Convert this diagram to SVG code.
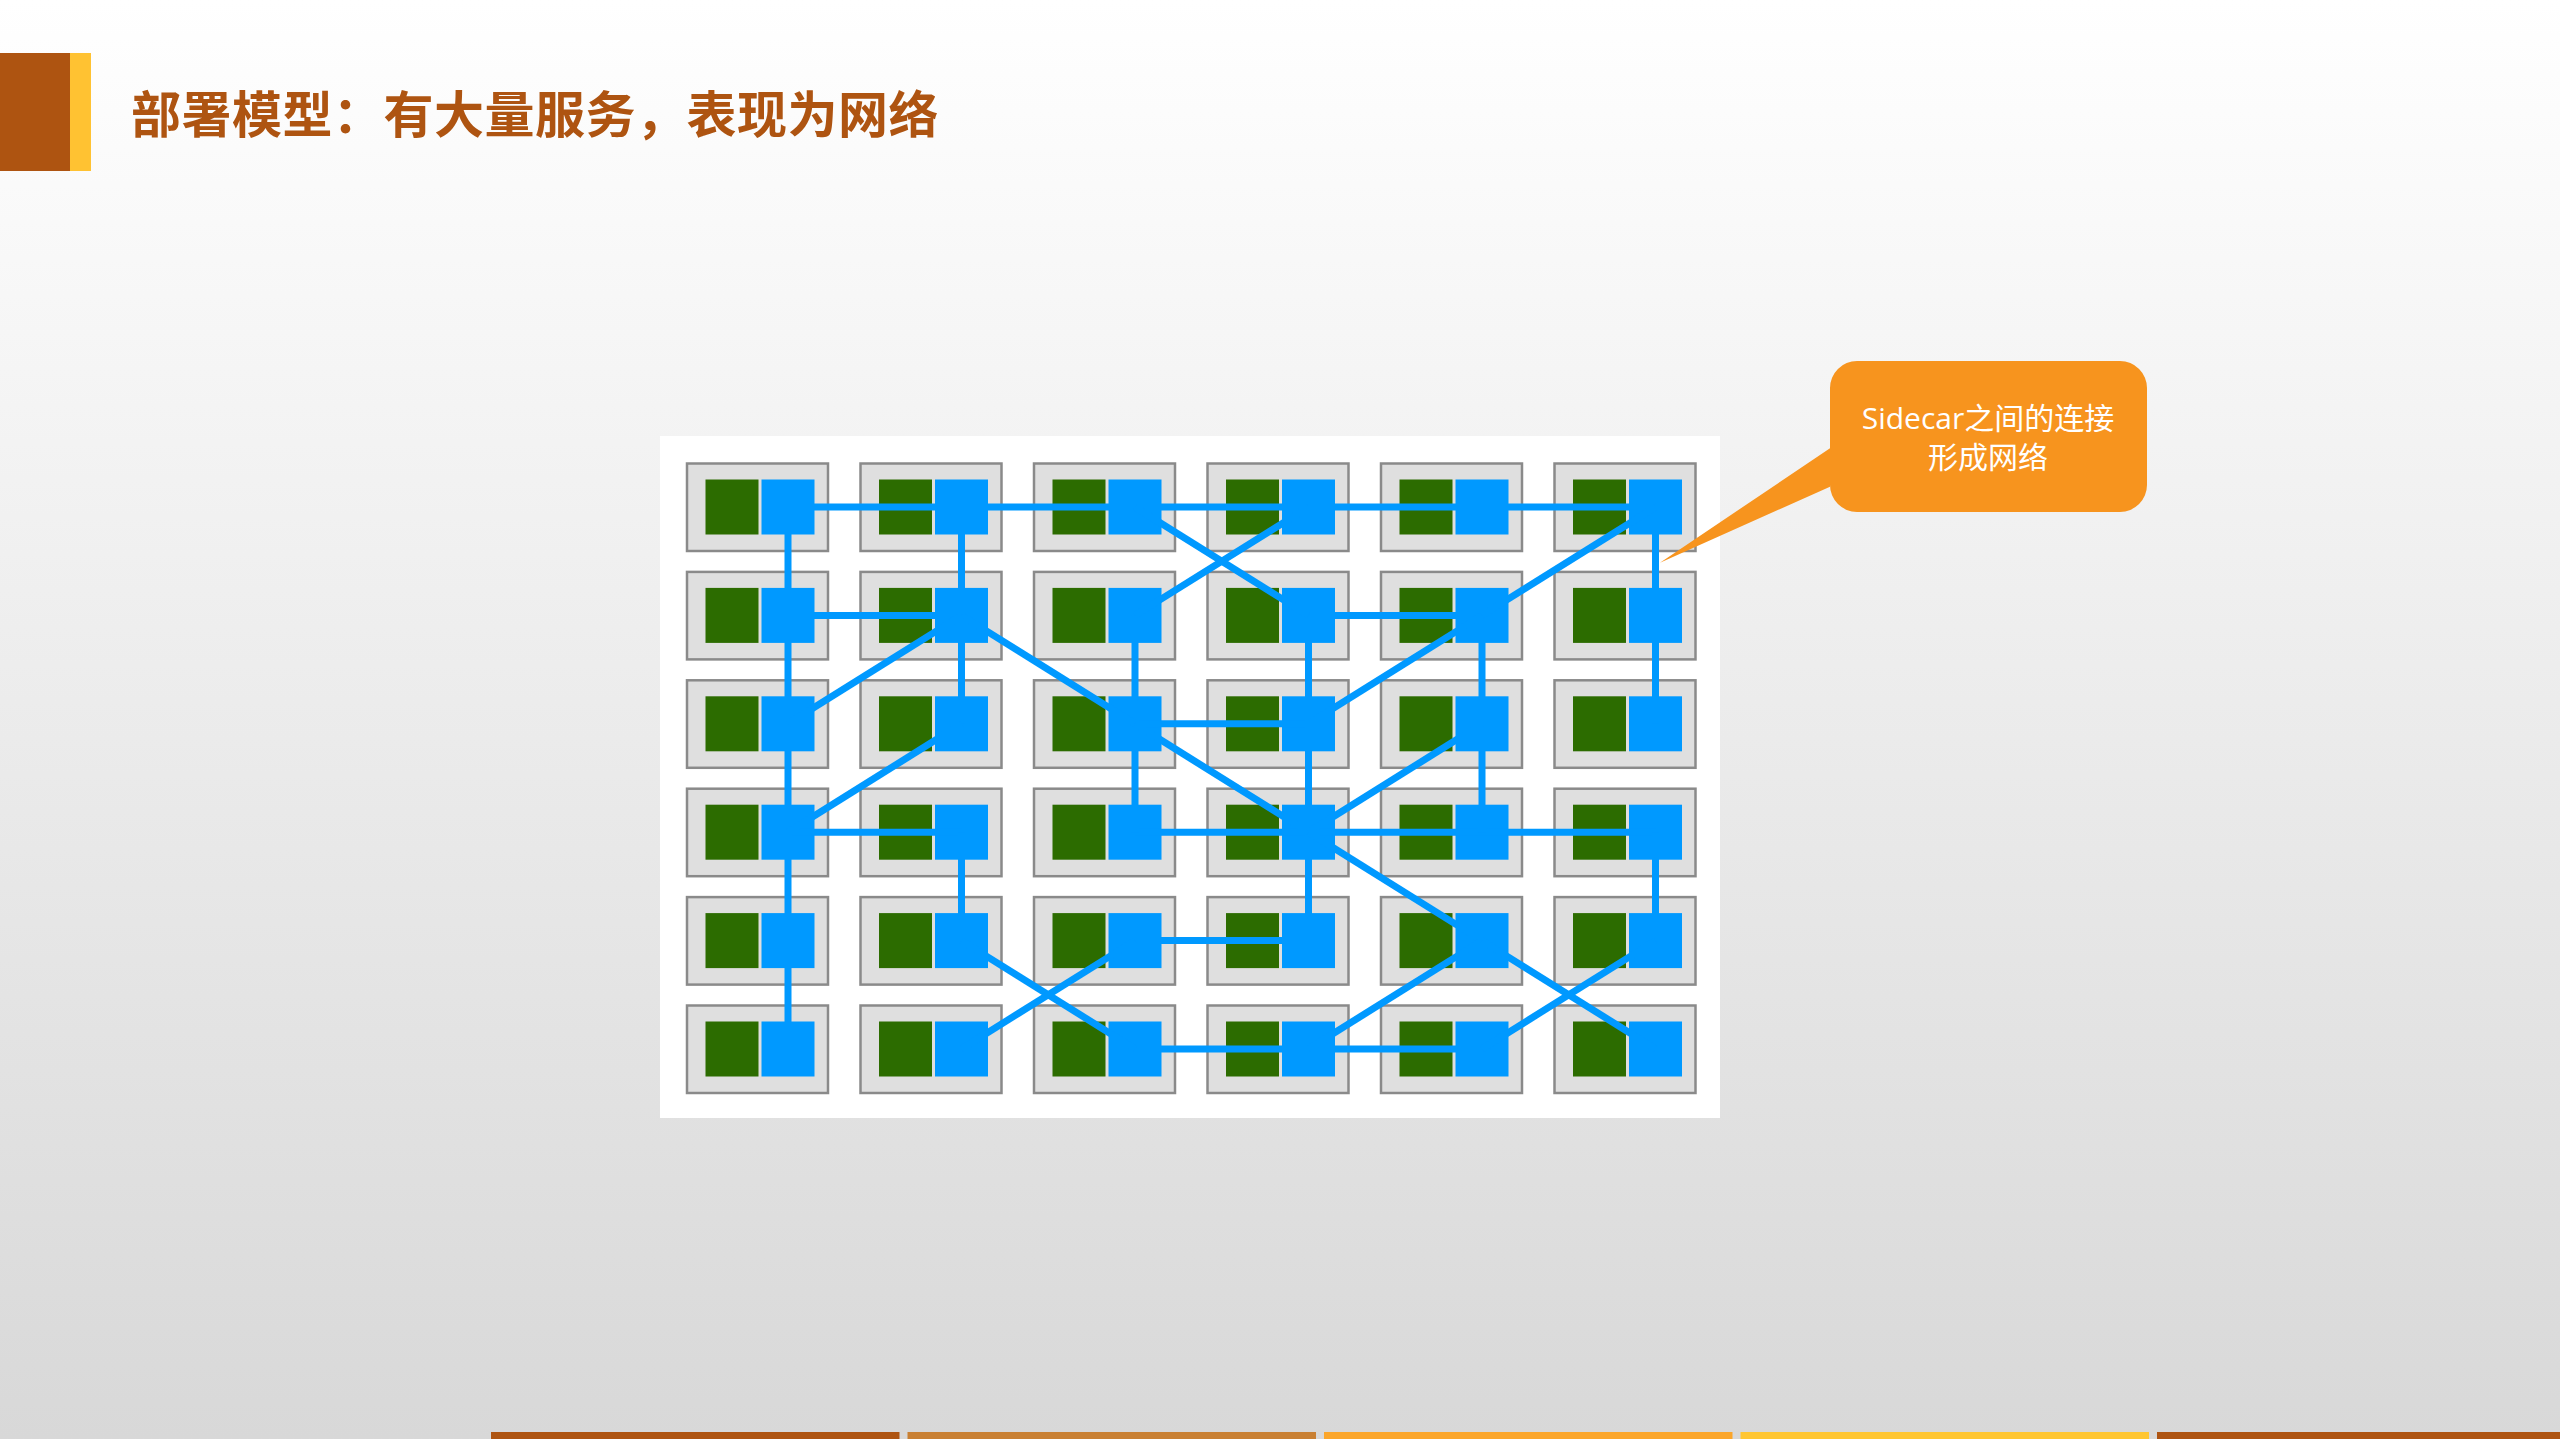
<svg xmlns="http://www.w3.org/2000/svg" xmlns:xlink="http://www.w3.org/1999/xlink" width="2560" height="1439" viewBox="0 0 2560 1439">
<defs>
<linearGradient id="bg" x1="0" y1="0" x2="0" y2="1">
<stop offset="0" stop-color="#FFFFFF"/>
<stop offset="1" stop-color="#D8D8D8"/>
</linearGradient>
<g id="pod">
<rect class="cell" x="0" y="0" width="141" height="87.5"/>
<rect class="app" x="18.5" y="16" width="53" height="55"/>
<rect class="sc" x="74.5" y="16" width="53" height="55"/>
</g>
</defs>
<style>
.cell{fill:#DFDFDF;stroke:#8A8A8A;stroke-width:2.5}
.app{fill:#2C6C00}
.sc{fill:#0099FF}
.link{stroke:#0099FF;stroke-width:7;fill:none}
.title{font-family:"Noto Sans CJK SC","Noto Sans",sans-serif;font-weight:bold;font-size:50px;letter-spacing:0.5px;fill:#AE5411}
.note{font-family:"Open Sans","Noto Sans CJK SC",sans-serif;font-size:30px;fill:#FFFFFF;text-anchor:middle}
</style>
<rect x="0" y="0" width="2560" height="1439" fill="url(#bg)"/>
<g id="header">
<rect x="0" y="53" width="70" height="118" fill="#AE5411"/>
<rect x="70" y="53" width="21" height="118" fill="#FFC232"/>
<text class="title" x="131" y="133">部署模型：有大量服务，表现为网络</text>
</g>
<g id="footer">
<rect x="491" y="1432" width="408.5" height="7" fill="#AE5411"/>
<rect x="907.5" y="1432" width="408.5" height="7" fill="#C98033"/>
<rect x="1324" y="1432" width="408.5" height="7" fill="#FBA62B"/>
<rect x="1740.5" y="1432" width="408.5" height="7" fill="#FFC632"/>
<rect x="2157" y="1432" width="403" height="7" fill="#AE5411"/>
</g>
<rect id="panel" x="660" y="436" width="1060" height="682" fill="#FFFFFF"/>
<g id="nodes">
<g id="n00" transform="translate(687,463.5)"><use xlink:href="#pod"/></g>
<g id="n01" transform="translate(860.5,463.5)"><use xlink:href="#pod"/></g>
<g id="n02" transform="translate(1034,463.5)"><use xlink:href="#pod"/></g>
<g id="n03" transform="translate(1207.5,463.5)"><use xlink:href="#pod"/></g>
<g id="n04" transform="translate(1381,463.5)"><use xlink:href="#pod"/></g>
<g id="n05" transform="translate(1554.5,463.5)"><use xlink:href="#pod"/></g>
<g id="n10" transform="translate(687,571.9)"><use xlink:href="#pod"/></g>
<g id="n11" transform="translate(860.5,571.9)"><use xlink:href="#pod"/></g>
<g id="n12" transform="translate(1034,571.9)"><use xlink:href="#pod"/></g>
<g id="n13" transform="translate(1207.5,571.9)"><use xlink:href="#pod"/></g>
<g id="n14" transform="translate(1381,571.9)"><use xlink:href="#pod"/></g>
<g id="n15" transform="translate(1554.5,571.9)"><use xlink:href="#pod"/></g>
<g id="n20" transform="translate(687,680.3)"><use xlink:href="#pod"/></g>
<g id="n21" transform="translate(860.5,680.3)"><use xlink:href="#pod"/></g>
<g id="n22" transform="translate(1034,680.3)"><use xlink:href="#pod"/></g>
<g id="n23" transform="translate(1207.5,680.3)"><use xlink:href="#pod"/></g>
<g id="n24" transform="translate(1381,680.3)"><use xlink:href="#pod"/></g>
<g id="n25" transform="translate(1554.5,680.3)"><use xlink:href="#pod"/></g>
<g id="n30" transform="translate(687,788.7)"><use xlink:href="#pod"/></g>
<g id="n31" transform="translate(860.5,788.7)"><use xlink:href="#pod"/></g>
<g id="n32" transform="translate(1034,788.7)"><use xlink:href="#pod"/></g>
<g id="n33" transform="translate(1207.5,788.7)"><use xlink:href="#pod"/></g>
<g id="n34" transform="translate(1381,788.7)"><use xlink:href="#pod"/></g>
<g id="n35" transform="translate(1554.5,788.7)"><use xlink:href="#pod"/></g>
<g id="n40" transform="translate(687,897.1)"><use xlink:href="#pod"/></g>
<g id="n41" transform="translate(860.5,897.1)"><use xlink:href="#pod"/></g>
<g id="n42" transform="translate(1034,897.1)"><use xlink:href="#pod"/></g>
<g id="n43" transform="translate(1207.5,897.1)"><use xlink:href="#pod"/></g>
<g id="n44" transform="translate(1381,897.1)"><use xlink:href="#pod"/></g>
<g id="n45" transform="translate(1554.5,897.1)"><use xlink:href="#pod"/></g>
<g id="n50" transform="translate(687,1005.5)"><use xlink:href="#pod"/></g>
<g id="n51" transform="translate(860.5,1005.5)"><use xlink:href="#pod"/></g>
<g id="n52" transform="translate(1034,1005.5)"><use xlink:href="#pod"/></g>
<g id="n53" transform="translate(1207.5,1005.5)"><use xlink:href="#pod"/></g>
<g id="n54" transform="translate(1381,1005.5)"><use xlink:href="#pod"/></g>
<g id="n55" transform="translate(1554.5,1005.5)"><use xlink:href="#pod"/></g>
</g>
<g id="connectors" class="link">
<line x1="788" y1="507" x2="1655.5" y2="507"/>
<line x1="788" y1="615.4" x2="961.5" y2="615.4"/>
<line x1="1308.5" y1="615.4" x2="1482" y2="615.4"/>
<line x1="1135" y1="723.8" x2="1308.5" y2="723.8"/>
<line x1="788" y1="832.2" x2="961.5" y2="832.2"/>
<line x1="1135" y1="832.2" x2="1655.5" y2="832.2"/>
<line x1="1135" y1="940.6" x2="1308.5" y2="940.6"/>
<line x1="1135" y1="1049" x2="1482" y2="1049"/>
<line x1="788" y1="507" x2="788" y2="1049"/>
<line x1="961.5" y1="507" x2="961.5" y2="723.8"/>
<line x1="961.5" y1="832.2" x2="961.5" y2="940.6"/>
<line x1="1135" y1="615.4" x2="1135" y2="832.2"/>
<line x1="1308.5" y1="615.4" x2="1308.5" y2="940.6"/>
<line x1="1482" y1="615.4" x2="1482" y2="832.2"/>
<line x1="1655.5" y1="507" x2="1655.5" y2="723.8"/>
<line x1="1655.5" y1="832.2" x2="1655.5" y2="940.6"/>
<line x1="1135" y1="507" x2="1308.5" y2="615.4"/>
<line x1="1135" y1="615.4" x2="1308.5" y2="507"/>
<line x1="1655.5" y1="507" x2="1482" y2="615.4"/>
<line x1="1482" y1="615.4" x2="1308.5" y2="723.8"/>
<line x1="961.5" y1="615.4" x2="1135" y2="723.8"/>
<line x1="961.5" y1="615.4" x2="788" y2="723.8"/>
<line x1="961.5" y1="723.8" x2="788" y2="832.2"/>
<line x1="1135" y1="723.8" x2="1308.5" y2="832.2"/>
<line x1="1482" y1="723.8" x2="1308.5" y2="832.2"/>
<line x1="1308.5" y1="832.2" x2="1482" y2="940.6"/>
<line x1="961.5" y1="940.6" x2="1135" y2="1049"/>
<line x1="1135" y1="940.6" x2="961.5" y2="1049"/>
<line x1="1482" y1="940.6" x2="1308.5" y2="1049"/>
<line x1="1482" y1="940.6" x2="1655.5" y2="1049"/>
<line x1="1655.5" y1="940.6" x2="1482" y2="1049"/>
</g>
<g id="callout">
<path d="M1857,361 H2120 A27,27 0 0 1 2147,388 V485 A27,27 0 0 1 2120,512 H1857 A27,27 0 0 1 1830,485 V486.7 L1660,562.7 L1830,448.3 V388 A27,27 0 0 1 1857,361 Z" fill="#F7941E"/>
<text class="note" x="1988" y="429">Sidecar之间的连接</text>
<text class="note" x="1988" y="468">形成网络</text>
</g>
</svg>
